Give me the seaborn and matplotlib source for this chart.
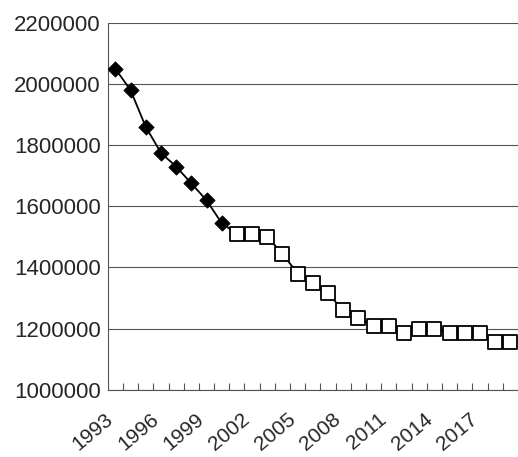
import matplotlib
matplotlib.use('Agg')
import matplotlib.pyplot as plt
from matplotlib.ticker import FuncFormatter
import seaborn as sns
import numpy as np

years = list(range(1993, 2020))
values = [2050000, 1980000, 1860000, 1775000, 1730000, 1675000, 1620000, 1545000,
          1510000, 1510000, 1500000, 1445000, 1380000, 1350000, 1315000, 1260000,
          1235000, 1210000, 1210000, 1185000, 1200000, 1200000, 1185000, 1185000,
          1185000, 1155000, 1155000]
n_filled = 8
tick_years = list(range(1993, 2020, 3))

sns.set_style("white")
plt.rcParams['font.family'] = ['Liberation Sans', 'DejaVu Sans']
fig, ax = plt.subplots(figsize=(5.18, 4.57), dpi=100)
fig.subplots_adjust(left=0.208, right=1.0, bottom=0.147, top=0.95)

x = np.arange(len(years)) + 0.5
sns.lineplot(x=x, y=values, ax=ax, color='black', linewidth=1.3, zorder=2)
sns.scatterplot(x=x[:n_filled], y=values[:n_filled], ax=ax, marker='D', s=60,
                color='black', edgecolor='black', zorder=3)
sns.scatterplot(x=x[n_filled:], y=values[n_filled:], ax=ax, marker='s', s=95,
                facecolor='white', edgecolor='black', linewidth=1.3, zorder=3)

ax.set_xlim(0, len(years))
ax.set_ylim(1000000, 2200000)
ax.set_yticks(range(1000000, 2200001, 200000))
ax.yaxis.set_major_formatter(FuncFormatter(lambda v, p: f"{int(v)}"))
ax.yaxis.grid(True, color='#555555', linewidth=0.8)
ax.tick_params(axis='y', length=0, labelsize=16, pad=5)
ax.set_xticks(np.arange(1, len(years)))
ax.set_xticklabels([])
ax.tick_params(axis='x', direction='in', length=5, bottom=True, color='#555555')
for y in tick_years:
    i = years.index(y)
    ax.text(i + 0.6, 935000, str(y), rotation=40, ha='right', va='top', fontsize=15)
for s in ['top', 'right']:
    ax.spines[s].set_visible(False)
for s in ['left', 'bottom']:
    ax.spines[s].set_color('#555555')

plt.savefig('out.png', dpi=100)
